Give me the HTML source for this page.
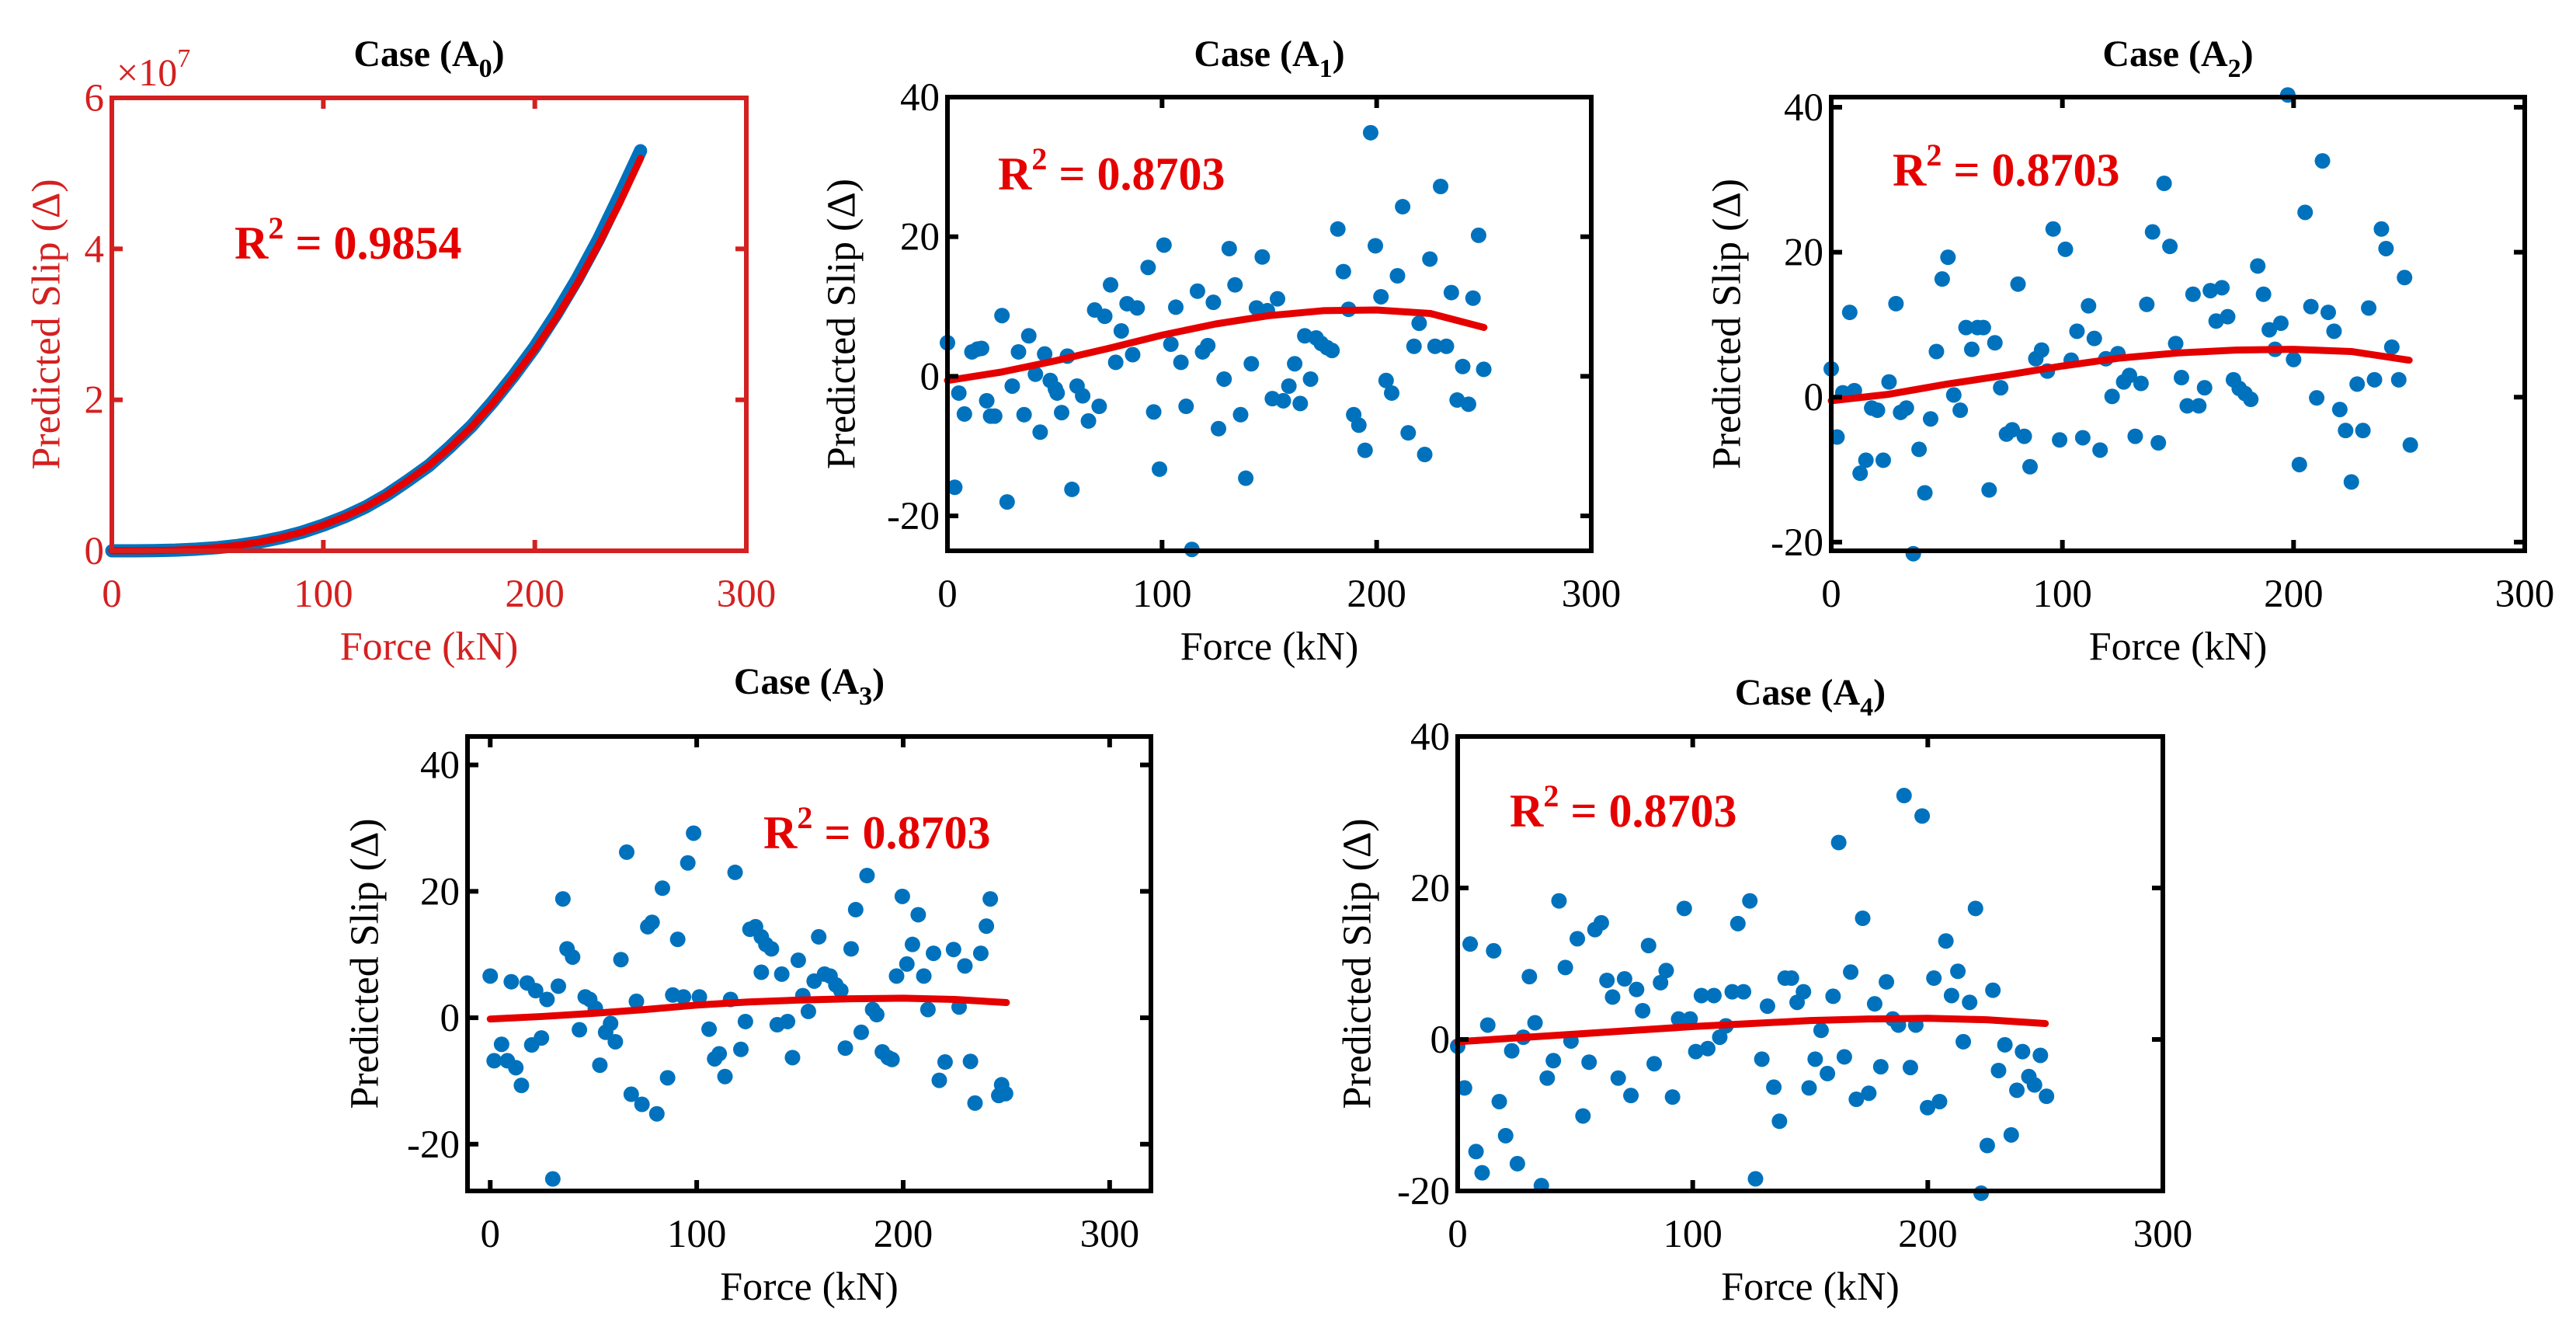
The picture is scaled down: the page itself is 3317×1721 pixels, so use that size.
<!DOCTYPE html>
<html><head><meta charset="utf-8"><style>
html,body{margin:0;padding:0;background:#fff;}
svg{display:block;}
text{font-family:"Liberation Serif","Times New Roman",serif;}
</style></head>
<body>
<svg id="fig" width="3317" height="1721" viewBox="0 0 3317 1721" xmlns="http://www.w3.org/2000/svg"></svg>
<script>
// ---- data ----
const a0X = [0,10,20,30,40,50,60,70,80,90,100,110,120,130,140,150,160,170,180,190,200,210,220,230,240,250];
const a0Y = [0,0.0003,0.003,0.009,0.022,0.042,0.073,0.116,0.174,0.247,0.34,0.45,0.58,0.74,0.93,1.13,1.38,1.65,1.97,2.32,2.7,3.13,3.6,4.12,4.7,5.3];
const a0Fit = [0,0.0003,0.003,0.009,0.022,0.042,0.073,0.116,0.174,0.247,0.34,0.45,0.58,0.74,0.93,1.13,1.37,1.64,1.95,2.3,2.67,3.08,3.54,4.05,4.6,5.2];

const a1X = [0,3.4,5.3,7.9,11.4,14,15.9,18.3,20.1,22,25.4,27.8,30.2,33.1,35.7,37.9,41,43.2,45.3,47.9,50.3,51.1,53.2,55.9,58,60.4,63,65.7,68.6,70.7,73.3,76,78.4,81,83.7,86.3,88.4,93.5,96.1,98.8,100.9,104.1,106.4,108.8,111.2,113.9,116.5,118.9,121.3,123.9,126.3,128.9,131.3,134,136.6,139,141.6,144,146.7,149.1,151.4,153.8,156.5,159.1,161.8,164.4,166.5,169.2,171.8,174.2,176.9,179.2,181.9,184.5,186.9,189.3,191.7,194.6,197.2,199.4,202,204.4,207,209.7,212.1,214.7,217.4,219.8,222.4,224.8,227.2,229.8,232.5,234.8,237.5,240.1,242.8,244.9,247.5,249.9];
const a1Y = [4.8,-15.9,-2.4,-5.4,3.5,3.9,4,-3.5,-5.7,-5.7,8.7,-18,-1.4,3.5,-5.5,5.8,0.3,-8,3.2,-0.6,-1.8,-2.4,-5.2,2.9,-16.2,-1.4,-2.8,-6.4,9.5,-4.3,8.6,13.1,2,6.5,10.4,3.1,9.8,15.6,-5.1,-13.3,18.8,4.6,9.9,2,-4.3,-24.8,12.2,3.5,4.4,10.6,-7.5,-0.4,18.3,13.1,-5.5,-14.6,1.8,9.8,17.1,9.4,-3.2,11.1,-3.5,-1.4,1.8,-3.9,5.8,-0.4,5.5,4.7,4.1,3.7,21.1,15,9.6,-5.5,-7,-10.6,34.9,18.7,11.4,-0.6,-2.4,14.4,24.3,-8.1,4.3,7.6,-11.2,16.8,4.3,27.2,4.3,12,-3.4,1.4,-4,11.2,20.2,1];

const a2X = [0,2.5,5,8,10,12.5,15,17.5,20,22.5,25,28,30,32.5,35.5,38,40.5,43,45.5,48,50.5,53,55.8,58.3,60.8,63.3,65.8,68.3,70.8,73.3,75.8,78.3,80.8,83.5,86,88.5,91,93.5,96,98.8,101.3,103.8,106.3,108.8,111.3,113.8,116.3,118.8,121.5,124,126.5,129,131.5,134,136.5,139,141.5,144,146.5,149,151.5,154,156.5,159,161.5,164,166.5,169,171.5,174,176.5,179,181.5,184.5,187,189.5,192,194.5,197.5,200,202.5,205,207.5,210,212.5,215,217.5,220,222.5,225,227.5,230,232.5,235,238,240,242.5,245.5,248,250.5];
const a2Y = [3.9,-5.5,0.6,11.7,0.9,-10.5,-8.7,-1.5,-1.8,-8.7,2.1,12.9,-2.1,-1.5,-21.6,-7.2,-13.2,-3,6.3,16.3,19.3,0.3,-1.8,9.6,6.6,9.6,9.6,-12.8,7.5,1.3,-5.1,-4.5,15.6,-5.4,-9.6,5.3,6.5,3.6,23.2,-5.9,20.4,5.1,9.1,-5.6,12.6,8.1,-7.3,5.3,0.1,6,2.1,3,-5.4,1.9,12.8,22.8,-6.3,29.5,20.8,7.4,2.7,-1.2,14.2,-1.2,1.3,14.7,10.5,15.1,11.1,2.4,1.2,0.5,-0.3,18.1,14.2,9.3,6.6,10.2,41.7,5.2,-9.3,25.5,12.5,-0.1,32.6,11.7,9.1,-1.7,-4.6,-11.7,1.8,-4.6,12.3,2.4,23.2,20.5,6.9,2.4,16.5,-6.6];

const a3X = [0,1.9,5.5,8.3,10.2,12.4,15.1,17.9,20.1,22,24.8,27.5,30.3,33,35.2,37.2,39.9,43.2,46,48.2,50.9,53.1,55.9,58.3,60.6,63.3,66.1,68.3,70.8,73.5,76.3,78.4,80.7,83.4,85.9,88.4,90.8,93.6,95.7,98.5,101.3,106,108.7,110.9,113.7,116.4,118.6,121.4,123.6,125.8,128.5,131.3,133.5,136.2,131.3,139,141.2,144,146.4,149.2,151.4,154.1,156.9,159.1,161.9,164.6,167.4,169.8,172,174.8,177,179.7,182.5,185.2,187.2,189.9,192.7,194.6,196.8,199.6,201.8,204.5,207.3,210,212,214.7,217.5,220.3,224.4,227.1,229.9,232.6,234.8,237.6,240.3,242.2,246.3,247.7,249.6];
const a3Y = [6.6,-6.8,-4.2,-6.8,5.7,-7.9,-10.7,5.5,-4.3,4.3,-3.2,2.9,-25.5,5,18.8,10.9,9.6,-1.9,3.3,2.9,1.5,-7.5,-2.3,-0.9,-3.8,9.2,26.2,-12.1,2.6,-13.7,14.4,15.1,-15.2,20.5,-9.5,3.6,12.4,3.3,24.5,29.2,3.3,-1.8,-6.5,-5.7,-9.3,2.9,23,-5,-0.6,14,14.4,12.8,11.6,10.9,7.2,-1.1,6.9,-0.6,-6.3,9.1,3.5,1,5.8,12.8,6.9,6.6,5.2,4.3,-4.8,10.9,17.1,-2.3,22.5,1.3,0.5,-5.4,-6.3,-6.6,6.6,19.2,8.5,11.6,16.3,6.6,1.3,10.2,-9.9,-7,10.8,1.7,8.2,-6.9,-13.5,10.2,14.5,18.8,-12.3,-10.6,-12];

const a4X = [0,2.9,5.3,7.8,10.4,12.8,15.3,17.7,20.4,23,25.4,27.9,30.5,32.9,35.6,38.1,40.7,43.1,45.8,48.2,50.9,53.3,55.9,58.4,61.1,63.5,65.9,68.3,71,73.7,76.1,78.7,81.2,83.6,86.3,88.7,91.4,94,96.4,98.9,101.3,103.7,106.4,109,111.5,114.1,116.8,119.2,121.6,124.3,126.7,129.4,131.8,134.5,136.9,139.3,142,144.4,147.1,149.5,152.1,154.6,157.3,159.7,162.1,164.5,167.2,169.6,172.3,174.9,177.4,180,182.4,185.1,187.5,189.9,192.6,194.9,197.6,199.9,202.6,205,207.7,210.1,212.8,215.1,217.8,220.3,222.7,225.3,227.7,230.1,232.8,235.5,237.9,240.3,243,245.4,247.9,250.5];
const a4Y = [-0.9,-6.4,12.6,-14.8,-17.6,1.9,11.7,-8.2,-12.7,-1.5,-16.4,0.3,8.3,2.2,-19.3,-5.1,-2.8,18.3,9.5,-0.2,13.3,-10.1,-3,14.5,15.4,7.8,5.6,-5.1,8,-7.4,6.6,3.8,12.4,-3.2,7.5,9.1,-7.6,2.7,17.3,2.7,-1.6,5.8,-1.2,5.8,0.3,1.8,6.3,15.3,6.3,18.3,-18.4,-2.6,4.4,-6.3,-10.8,8.1,8.1,4.9,6.3,-6.4,-2.6,1.2,-4.5,5.7,26,-2.3,8.9,-7.9,16,-7.1,4.7,-3.6,7.6,2.7,1.9,32.2,-3.7,1.9,29.5,-9,8.1,-8.2,13,5.8,9,-0.3,4.9,17.3,-20.3,-14,6.5,-4.1,-0.7,-12.6,-6.7,-1.6,-4.9,-6,-2.1,-7.5];

const fitX = [0,25,50,75,100,125,150,175,200,225,250];
const a1Fit = [-0.6,0.6,2.2,4.0,5.9,7.5,8.7,9.4,9.5,9.0,7.0];
const a2Fit = [-0.5,0.4,1.8,3.0,4.3,5.4,6.1,6.5,6.6,6.3,5.1];
const a3Fit = [-0.2,0.2,0.7,1.3,2.0,2.5,2.8,3.0,3.1,2.9,2.4];
const a4Fit = [-0.3,0.2,0.7,1.2,1.7,2.1,2.5,2.7,2.8,2.6,2.1];

const xTicks = [0,100,200,300];
const yTicksA0 = [0,2,4,6];
const yTicksStd = [-20,0,20,40];

// ---- drawing ----
const NS = 'http://www.w3.org/2000/svg';
const svg = document.getElementById('fig');
function el(tag, attrs, parent){
  const e = document.createElementNS(NS, tag);
  for (const k in attrs) e.setAttribute(k, attrs[k]);
  (parent||svg).appendChild(e);
  return e;
}
const BLUE = '#0072BD', RED = '#E50000';

function panel(cfg){
  const g = el('g', {});
  
  
  const sx = v => cfg.L + (v - cfg.xmin) / (cfg.xmax - cfg.xmin) * (cfg.R - cfg.L);
  const sy = v => cfg.B - (v - cfg.ymin) / (cfg.ymax - cfg.ymin) * (cfg.B - cfg.T);
  const ac = cfg.axisColor;
  if (cfg.curve) {
    const pts = cfg.xs.map((x,i)=>sx(x)+','+sy(cfg.ys[i])).join(' ');
    const bl = el('polyline', {points:pts, fill:'none', stroke:BLUE, 'stroke-width':17, 'stroke-linecap':'round','stroke-linejoin':'round'}, g);
    
    
  } else {
    cfg.xs.forEach((x,i)=>{
      const c = el('circle', {cx:sx(x), cy:sy(cfg.ys[i]), r:10, fill:BLUE}, g);
      
      
    });
  }
  const fp = cfg.fx.map((x,i)=>sx(x)+','+sy(cfg.fy[i])).join(' ');
  const fl = el('polyline', {points:fp, fill:'none', stroke:RED, 'stroke-width':9, 'stroke-linecap':'round','stroke-linejoin':'round'}, g);
  
  
  const box = el('rect', {x:cfg.L, y:cfg.T, width:cfg.R-cfg.L, height:cfg.B-cfg.T, fill:'none', stroke:ac, 'stroke-width':6}, g);
  
  
  cfg.xt.forEach(v=>{
    const x = sx(v);
    el('line', {x1:x, y1:cfg.B, x2:x, y2:cfg.B-14, stroke:ac, 'stroke-width':6}, g);
    el('line', {x1:x, y1:cfg.T, x2:x, y2:cfg.T+14, stroke:ac, 'stroke-width':6}, g);
    const t = el('text', {x:x, y:cfg.B+72, 'font-size':51, 'text-anchor':'middle', fill:ac}, g);
    t.textContent = v;
    
    
  });
  cfg.yt.forEach(v=>{
    const y = sy(v);
    el('line', {x1:cfg.L, y1:y, x2:cfg.L+14, y2:y, stroke:ac, 'stroke-width':6}, g);
    el('line', {x1:cfg.R, y1:y, x2:cfg.R-14, y2:y, stroke:ac, 'stroke-width':6}, g);
    const t = el('text', {x:cfg.L-10, y:y+17, 'font-size':51, 'text-anchor':'end', fill:ac}, g);
    t.textContent = v;
    
    
  });
  const xl = el('text', {x:(cfg.L+cfg.R)/2, y:cfg.B+140, 'font-size':52, 'text-anchor':'middle', fill:ac}, g);
  xl.textContent = 'Force (kN)';
  
  
  const ym = (cfg.T+cfg.B)/2;
  const yl = el('text', {x:cfg.ylx, y:ym, 'font-size':52, 'text-anchor':'middle', fill:ac, transform:`rotate(-90 ${cfg.ylx} ${ym})`, 'dominant-baseline':'central'}, g);
  yl.textContent = 'Predicted Slip (\u0394)';
  
  
  const tt = el('text', {x:(cfg.L+cfg.R)/2, y:cfg.titleY, 'font-size':48, 'font-weight':'bold', 'text-anchor':'middle', fill:'#000'}, g);
  tt.innerHTML = 'Case (A<tspan dy="14" font-size="34">' + cfg.sub + '</tspan><tspan dy="-14">)</tspan>';
  
  
  const r2 = el('text', {x:cfg.r2x, y:cfg.r2y, 'font-size':60, 'font-weight':'bold', fill:RED}, g);
  r2.innerHTML = 'R<tspan dy="-26" font-size="40">2</tspan><tspan dy="26"> = ' + cfg.r2 + '</tspan>';
  
  
  if (cfg.exp) {
    const ex = el('text', {x:cfg.L+6, y:cfg.T-16, 'font-size':50, fill:ac}, g);
    ex.innerHTML = '\u00d710<tspan dy="-24" font-size="34">7</tspan>';
    
    
  }
}

panel({name:'panel-a0', L:144, R:961, T:126, B:709, xmin:0, xmax:300, ymin:0, ymax:6,
  xs:a0X, ys:a0Y, fx:a0X, fy:a0Fit, curve:true, xt:xTicks, yt:yTicksA0, axisColor:'#D42020',
  ylx:60, titleY:85, sub:'0', r2:'0.9854', r2x:302, r2y:333, exp:true});
panel({name:'panel-a1', L:1220, R:2049, T:125, B:709, xmin:0, xmax:300, ymin:-25, ymax:40,
  xs:a1X, ys:a1Y, fx:fitX, fy:a1Fit, xt:xTicks, yt:yTicksStd, axisColor:'#000',
  ylx:1084, titleY:85, sub:'1', r2:'0.8703', r2x:1285, r2y:244});
panel({name:'panel-a2', L:2358, R:3251, T:125, B:709, xmin:0, xmax:300, ymin:-21.2, ymax:41.4,
  xs:a2X, ys:a2Y, fx:fitX, fy:a2Fit, xt:xTicks, yt:yTicksStd, axisColor:'#000',
  ylx:2224, titleY:85, sub:'2', r2:'0.8703', r2x:2437, r2y:239});
panel({name:'panel-a3', L:602, R:1482, T:948, B:1533, xmin:-11, xmax:320, ymin:-27.4, ymax:44.5,
  xs:a3X, ys:a3Y, fx:fitX, fy:a3Fit, xt:xTicks, yt:yTicksStd, axisColor:'#000',
  ylx:470, titleY:893, sub:'3', r2:'0.8703', r2x:983, r2y:1092});
panel({name:'panel-a4', L:1877, R:2785, T:948, B:1533, xmin:0, xmax:300, ymin:-20, ymax:40,
  xs:a4X, ys:a4Y, fx:fitX, fy:a4Fit, xt:xTicks, yt:yTicksStd, axisColor:'#000',
  ylx:1748, titleY:907, sub:'4', r2:'0.8703', r2x:1944, r2y:1064});
</script>
</body></html>
